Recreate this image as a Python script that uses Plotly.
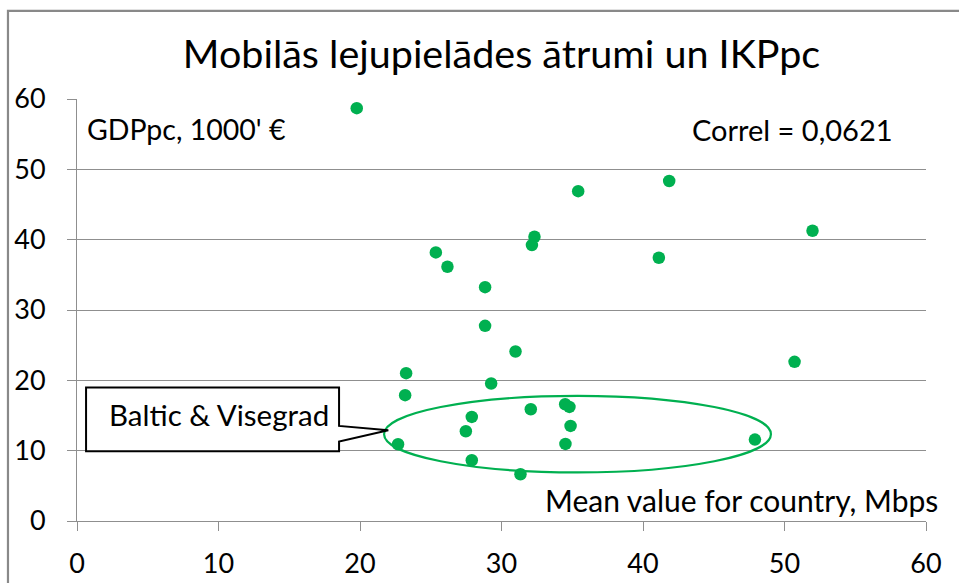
import plotly.graph_objects as go

# Mean mobile download speed per country, Mbps
speed_mbps = [19.77, 25.36, 26.18, 35.42, 41.85, 51.98, 32.33, 32.15, 41.12, 28.84,
              28.84, 30.99, 50.71, 29.27, 32.07, 34.50, 34.80, 34.88, 34.52, 47.91,
              31.34, 23.26, 23.19, 22.69, 27.90, 27.48, 27.90]
# GDP per capita, 1000' EUR
gdppc = [58.7, 38.19, 36.15, 46.9, 48.34, 41.27, 40.41, 39.23, 37.43, 33.25,
         27.75, 24.1, 22.63, 19.55, 15.89, 16.6, 16.22, 13.52, 10.96, 11.58,
         6.65, 21.02, 17.89, 10.91, 14.8, 12.76, 8.64]

tick_vals = [0, 10, 20, 30, 40, 50, 60]
tick_text = ["0", "10", "20", "30", "40", "50", "60"]

title_text = "Mobilās lejupielādes ātrumi un IKPpc"
y_label = "GDPpc, 1000' €"
x_label = "Mean value for country, Mbps"
correl_text = "Correl = 0,0621"
group_label = "Baltic & Visegrad"

GREEN = "#00B050"
GRID = "#8f8f8f"
FONT = "Lato"

fig = go.Figure()
fig.add_trace(go.Scatter(
    x=speed_mbps, y=gdppc, mode="markers",
    marker=dict(color=GREEN, size=12.5, line=dict(width=0)),
    showlegend=False, hoverinfo="x+y"))

axis_common = dict(
    range=[0, 60], tickvals=tick_vals, ticktext=tick_text,
    showgrid=True, gridcolor=GRID, gridwidth=1,
    showline=True, linecolor=GRID, linewidth=1,
    ticks="outside", ticklen=9, tickcolor=GRID, tickwidth=1,
    zeroline=False, tickfont=dict(family=FONT, size=27, color="#000"),
    fixedrange=True, automargin=False,
)
fig.update_xaxes(**axis_common, ticklabelstandoff=10)
fig.update_yaxes(**axis_common, ticklabelstandoff=16)
fig.update_xaxes(showgrid=False)

# Callout geometry (data units)
box_l, box_r, box_t, box_b = 0.64, 18.52, 18.98, 9.92
ptr_a, ptr_b = 13.52, 11.3
tip_x, tip_y = 22.0, 12.9
ell = dict(x0=21.7, x1=49.04, y0=6.9, y1=17.8)

shapes = [
    dict(type="circle", xref="x", yref="y", **ell,
         line=dict(color=GREEN, width=2.2), fillcolor="rgba(0,0,0,0)", layer="above"),
    dict(type="path", xref="x", yref="y",
         path=(f"M {box_l},{box_t} L {box_r},{box_t} L {box_r},{ptr_a} L {tip_x},{tip_y} "
               f"L {box_r},{ptr_b} L {box_r},{box_b} L {box_l},{box_b} Z"),
         line=dict(color="#000", width=2), fillcolor="white", layer="above"),
    # outer chart frame
    dict(type="rect", xref="paper", yref="paper", x0=-0.0813, x1=1.06, y0=-0.3, y1=1.2087,
         line=dict(color="#898989", width=2.2), fillcolor="rgba(0,0,0,0)", layer="below"),
]

annotations = [
    dict(text=y_label, xref="paper", yref="paper", x=0.0094, y=0.928,
         xanchor="left", yanchor="middle", showarrow=False,
         font=dict(family=FONT, size=28.5, color="#000")),
    dict(text=correl_text, xref="paper", yref="paper", x=0.964, y=0.928,
         xanchor="right", yanchor="middle", showarrow=False,
         font=dict(family=FONT, size=29, color="#000")),
    dict(text=x_label, xref="paper", yref="paper", x=1.016, y=0.0490,
         xanchor="right", yanchor="middle", showarrow=False,
         font=dict(family=FONT, size=30, color="#000")),
    dict(text=group_label, x=10.05, y=15.1, xref="x", yref="y",
         xanchor="center", yanchor="middle", showarrow=False,
         font=dict(family=FONT, size=29.5, color="#000")),
]

fig.update_layout(
    width=959, height=583,
    margin=dict(l=77, r=33, t=99, b=62, pad=0, autoexpand=False),
    paper_bgcolor="white", plot_bgcolor="white",
    title=dict(text=title_text, x=0.5, xref="paper", y=1 - 54 / 583, yanchor="middle",
               font=dict(family=FONT, size=39.5, color="#000")),
    shapes=shapes, annotations=annotations,
)

fig.write_html("out.html", config={"displayModeBar": False},
               post_script="document.body.style.margin='0';document.body.style.overflow='hidden';")
